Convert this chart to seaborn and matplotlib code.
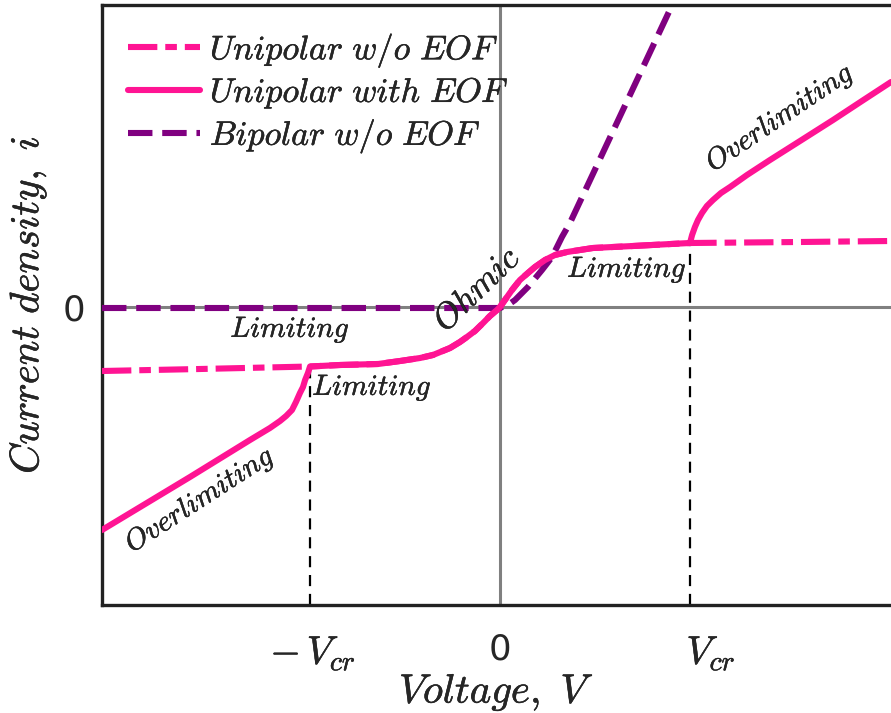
import numpy as np
import pandas as pd
import matplotlib
matplotlib.use("Agg")
import matplotlib.pyplot as plt
import matplotlib.transforms as mtransforms
import matplotlib.patheffects as pe
import seaborn as sns

# ---------------- data ----------------
# x in units of V_cr, y in arbitrary current-density units
uni_noeof_x = [-2.095, -1.579, -1.000, -0.842, -0.642, -0.526, -0.421, -0.353, -0.263,
               -0.211, -0.174, -0.132, -0.089, -0.053, -0.016, 0.000, 0.037, 0.063,
               0.105, 0.147, 0.184, 0.237, 0.289, 0.353, 0.489, 0.700, 1.000, 1.579, 2.058]
uni_noeof_y = [-0.64, -0.62, -0.595, -0.58, -0.57, -0.54, -0.51, -0.48, -0.41,
               -0.35, -0.30, -0.24, -0.16, -0.09, -0.03, 0.00, 0.10, 0.17,
               0.27, 0.34, 0.40, 0.47, 0.52, 0.55, 0.59, 0.61, 0.64, 0.65, 0.66]

uni_eof_x = [-2.095, -1.632, -1.316, -1.211, -1.158, -1.126, -1.095, -1.074, -1.053,
             -1.037, -1.026, -1.011, -1.000, -0.842, -0.642, -0.526, -0.421, -0.353,
             -0.263, -0.211, -0.174, -0.132, -0.089, -0.053, -0.016, 0.000, 0.037,
             0.063, 0.105, 0.147, 0.184, 0.237, 0.289, 0.353, 0.489, 0.700, 1.000,
             1.011, 1.026, 1.042, 1.063, 1.089, 1.121, 1.163, 1.211, 1.300, 1.421,
             1.579, 1.753, 1.905, 2.058]
uni_eof_y = [-2.23, -1.70, -1.33, -1.21, -1.14, -1.09, -1.03, -0.95, -0.86,
             -0.80, -0.73, -0.66, -0.595, -0.58, -0.57, -0.54, -0.51, -0.48,
             -0.41, -0.35, -0.30, -0.24, -0.16, -0.09, -0.03, 0.00, 0.10,
             0.17, 0.27, 0.34, 0.40, 0.47, 0.52, 0.55, 0.59, 0.61, 0.64,
             0.72, 0.80, 0.87, 0.94, 1.01, 1.07, 1.14, 1.20, 1.32, 1.47,
             1.66, 1.87, 2.06, 2.25]

bip_x = [-2.095, 0.000, 0.042, 0.079, 0.147, 0.221, 0.274, 0.326, 0.368, 0.911]
bip_y = [-0.01, -0.01, 0.02, 0.07, 0.20, 0.37, 0.50, 0.70, 0.84, 3.04]

vcr_x = [-1.0, 1.0]
vcr_top = [-0.60, 0.64]

xtick_pos = [-1.0, 0.0, 1.0]
xtick_lab = [r"$-\,V_{cr}$", "0", r"$V_{cr}$"]
ytick_pos = [0.0]
ytick_lab = ["0"]

labels = [r"$Unipolar\ w/o\ EOF$", r"$Unipolar\ with\ EOF$", r"$Bipolar\ w/o\ EOF$"]

annot_text = [r"$Limiting$", r"$Limiting$", r"$Limiting$", r"$Ohmic$",
              r"$Overlimiting$", r"$Overlimiting$"]
annot_x = [-1.105, -0.674, 0.668, -0.122, -1.579, 1.474]
annot_y = [-0.23, -0.81, 0.37, 0.18, -1.93, 1.89]
annot_rot = [0, 0, 0, 44, 33, 34]
annot_size = [21, 21, 21, 25, 21, 21]

# ---------------- style ----------------
sns.set_style("white")
plt.rcParams["mathtext.fontset"] = "cm"
plt.rcParams["font.family"] = ["DejaVu Sans"]

PINK = "#FF1493"
PURPLE = "#800080"
heavy = [pe.withStroke(linewidth=0.3, foreground="black")]

fig = plt.figure(figsize=(8.91, 7.13), dpi=100)
ax = fig.add_axes([102 / 891, 1 - 605 / 713, 1 - 102 / 891, 600 / 713])

ax.axhline(0, color="#808080", lw=2.2, zorder=1)
ax.axvline(0, color="#808080", lw=2.2, zorder=1)

ax.vlines(vcr_x, [-2.98, -2.98], vcr_top, colors="black", lw=1.6,
          linestyles=(0, (5, 3.5)), zorder=2)

lw = 4.4
sns.lineplot(x=uni_noeof_x, y=uni_noeof_y, ax=ax, color=PINK, lw=lw, sort=False,
             estimator=None, linestyle=(0, (4.8, 1.3, 1.9, 1.3)), label=labels[0], zorder=3)
sns.lineplot(x=bip_x, y=bip_y, ax=ax, color=PURPLE, lw=lw, sort=False,
             estimator=None, linestyle=(0, (4.0, 1.6)), label=labels[2], zorder=4)
sns.lineplot(x=uni_eof_x, y=uni_eof_y, ax=ax, color=PINK, lw=lw, sort=False,
             estimator=None, label=labels[1], zorder=5)

ax.set_xlim(-2.095, 2.058)
ax.set_ylim(-2.98, 3.02)

ax.set_xticks(xtick_pos)
ax.set_xticklabels(xtick_lab)
ax.set_yticks(ytick_pos)
ax.set_yticklabels(ytick_lab, fontsize=25.5)
ax.tick_params(axis="x", length=0, pad=20)
ax.tick_params(axis="y", length=0, pad=12)

# sizes and small horizontal offsets of the tick labels as in the reference
offs = [3, 0, 21]
sizes = [28.5, 25.5, 28.5]
for lab, dx, fs in zip(ax.get_xticklabels(), offs, sizes):
    lab.set_fontsize(fs)
    lab.set_transform(lab.get_transform() +
                      mtransforms.ScaledTranslation(dx / 100, 0, fig.dpi_scale_trans))
    if dx:
        lab.set_path_effects(heavy)

for s in ["left", "top", "bottom"]:
    ax.spines[s].set_color("#222222")
    ax.spines[s].set_linewidth(2.4)
ax.spines["right"].set_visible(False)

ax.set_xlabel(r"$Voltage,\ V$", fontsize=29.5, path_effects=heavy)
ax.set_ylabel(r"$Current\ density,\ i$", fontsize=29.5, path_effects=heavy)
ax.xaxis.set_label_coords(0.50, -0.113)
ax.yaxis.set_label_coords(-0.068, 0.5)

for t, x, y, r, fs in zip(annot_text, annot_x, annot_y, annot_rot, annot_size):
    ax.text(x, y, t, fontsize=fs, rotation=r, ha="center", va="center",
            rotation_mode="anchor", zorder=6, path_effects=heavy)

h, l = ax.get_legend_handles_labels()
order = [l.index(labels[0]), l.index(labels[1]), l.index(labels[2])]
leg = ax.legend([h[i] for i in order], [l[i] for i in order], loc="upper left",
                bbox_to_anchor=(0.016, 0.979), frameon=False, fontsize=24.5,
                handlelength=2.1, handletextpad=0.3, labelspacing=0.17, borderaxespad=0)
for txt in leg.get_texts():
    txt.set_path_effects(heavy)

fig.savefig("out.png", dpi=100)
